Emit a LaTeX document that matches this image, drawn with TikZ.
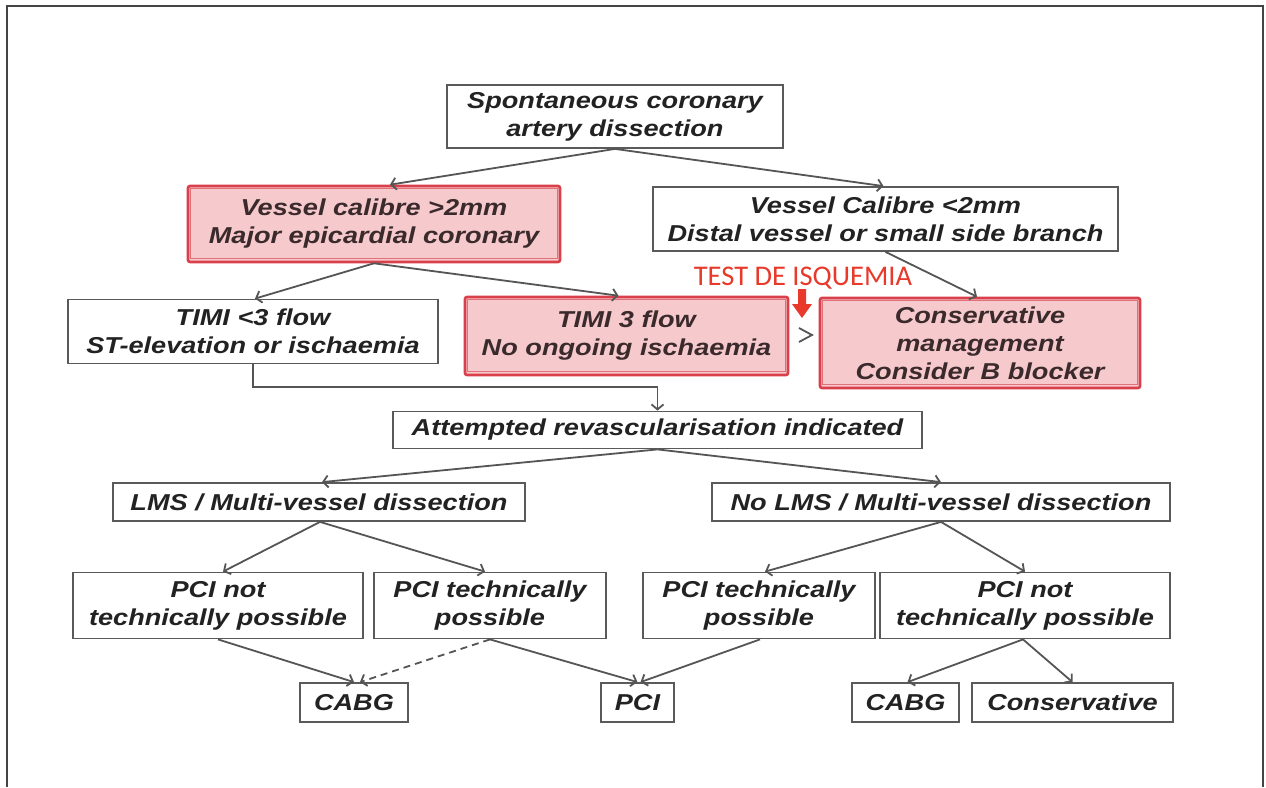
\documentclass[tikz,border=0pt]{standalone}
\usepackage{fontspec}
\usetikzlibrary{arrows.meta}
\newfontfamily\lsansfam[FakeStretch=1.18]{Liberation Sans}
\newfontfamily\carlfam{Carlito}
\definecolor{boxgray}{HTML}{5A5A5A}
\definecolor{linegray}{HTML}{555555}
\definecolor{redb}{HTML}{D9404A}
\definecolor{redin}{HTML}{E0707A}
\definecolor{pinkf}{HTML}{F6C9CC}
\definecolor{txt}{HTML}{222222}
\definecolor{redboxtxt}{HTML}{3A2A2C}
\definecolor{redtxt}{HTML}{E8392B}
\definecolor{framec}{HTML}{444444}
\tikzset{
  box/.style={draw=boxgray, line width=1.8pt, fill=white, align=center, inner sep=0pt,
    text=txt, font={\lsansfam\bfseries\itshape\fontsize{23}{28}\selectfont}},
  redbox/.style={box, draw=redb, line width=2.6pt, fill=pinkf, rounded corners=2pt, text=redboxtxt},
  conn/.style={draw=linegray, line width=1.8pt, -{Straight Barb[length=5pt,width=12pt]}},
  dconn/.style={conn, dash pattern=on 7pt off 5pt},
}
\begin{document}
\begin{tikzpicture}[x=1pt,y=-1pt]
\useasboundingbox (0,0) rectangle (1266,787);
\fill[white] (0,0) rectangle (1266,787);
\draw[framec, line width=2pt] (7,787) -- (7,6) -- (1263,6) -- (1263,787);

% nodes
\node[box, minimum width=336pt, minimum height=63pt] (A) at (615,116.5) {Spontaneous coronary\\artery dissection};
\node[redbox, minimum width=372pt, minimum height=76pt] (B) at (374,224) {Vessel calibre >2mm\\Major epicardial coronary};
\node[box, minimum width=465pt, minimum height=64pt] (C) at (885.5,219) {Vessel Calibre <2mm\\Distal vessel or small side branch};
\node[box, minimum width=370pt, minimum height=64pt] (D) at (253,331.5) {TIMI <3 flow\\ST-elevation or ischaemia};
\node[redbox, minimum width=323pt, minimum height=78pt] (E) at (626.5,336) {TIMI 3 flow\\No ongoing ischaemia};
\node[redbox, minimum width=320pt, minimum height=90pt] (I) at (980,343) {Conservative\\management\\Consider B blocker};
\node[box, minimum width=529pt, minimum height=37pt] (J) at (657.5,430) {Attempted revascularisation indicated};
\node[box, minimum width=412pt, minimum height=38pt] (K) at (319,502) {LMS / Multi-vessel dissection};
\node[box, minimum width=458pt, minimum height=38pt] (L) at (941,502) {No LMS / Multi-vessel dissection};
\node[box, minimum width=290pt, minimum height=66pt] (M) at (218,605.5) {PCI not\\technically possible};
\node[box, minimum width=232pt, minimum height=66pt] (N) at (490,605.5) {PCI technically\\possible};
\node[box, minimum width=232pt, minimum height=66pt] (O) at (759,605.5) {PCI technically\\possible};
\node[box, minimum width=290pt, minimum height=66pt] (P) at (1025,605.5) {PCI not\\technically possible};
\node[box, minimum width=108pt, minimum height=39pt] (Q) at (354,702.5) {CABG};
\node[box, minimum width=73pt, minimum height=39pt] (R) at (637.5,702.5) {PCI};
\node[box, minimum width=107pt, minimum height=39pt] (S) at (905.5,702.5) {CABG};
\node[box, minimum width=201pt, minimum height=39pt] (T) at (1072.5,702.5) {Conservative};

% inner lines of red boxes
\foreach \n in {B,E,I}{
  \draw[redin, line width=0.9pt] ([shift={(4pt,-4pt)}]\n.north west) rectangle ([shift={(-4pt,5pt)}]\n.south east);
}

% red label and arrow
\node[anchor=base, text=redtxt, font={\carlfam\fontsize{28.5}{30}\selectfont}, inner sep=0pt] (test) at (803,285) {TEST DE ISQUEMIA};
\fill[redtxt] (798,289) -- (806,289) -- (806,304) -- (812,304) -- (802,318) -- (792,304) -- (798,304) -- cycle;
\draw[linegray, line width=1.8pt] (799,328) -- (812,335) -- (799,342);

% connectors
\draw[conn] (A.south) -- ([xshift=16pt]B.north);
\draw[conn] (A.south) -- ([xshift=-2pt]C.north);
\draw[conn] (B.south) -- ([xshift=2pt]D.north);
\draw[conn] (B.south) -- ([xshift=-8pt]E.north);
\draw[conn] (C.south) -- ([xshift=-3pt]I.north);
\coordinate (elb) at (0,387);
\draw[conn] (D.south) -- (D.south |- elb) -| (J.north);
\draw[conn] (J.south) -- ([xshift=3pt]K.north);
\draw[conn] (J.south) -- (L.north);
\draw[conn] ([xshift=1pt]K.south) -- ([xshift=5pt]M.north);
\draw[conn] ([xshift=1pt]K.south) -- ([xshift=-5pt]N.north);
\draw[conn] (L.south) -- ([xshift=6pt]O.north);
\draw[conn] (L.south) -- (P.north);
\draw[conn] (M.south) -- (Q.north);
\draw[dconn] (N.south) -- ([xshift=6pt]Q.north);
\draw[conn] (N.south) -- (R.north);
\draw[conn] ([xshift=1pt]O.south) -- ([xshift=3pt]R.north);
\draw[conn] ([xshift=-2pt]P.south) -- ([xshift=2pt]S.north);
\draw[conn] ([xshift=-2pt]P.south) -- (T.north);
\end{tikzpicture}
\end{document}
